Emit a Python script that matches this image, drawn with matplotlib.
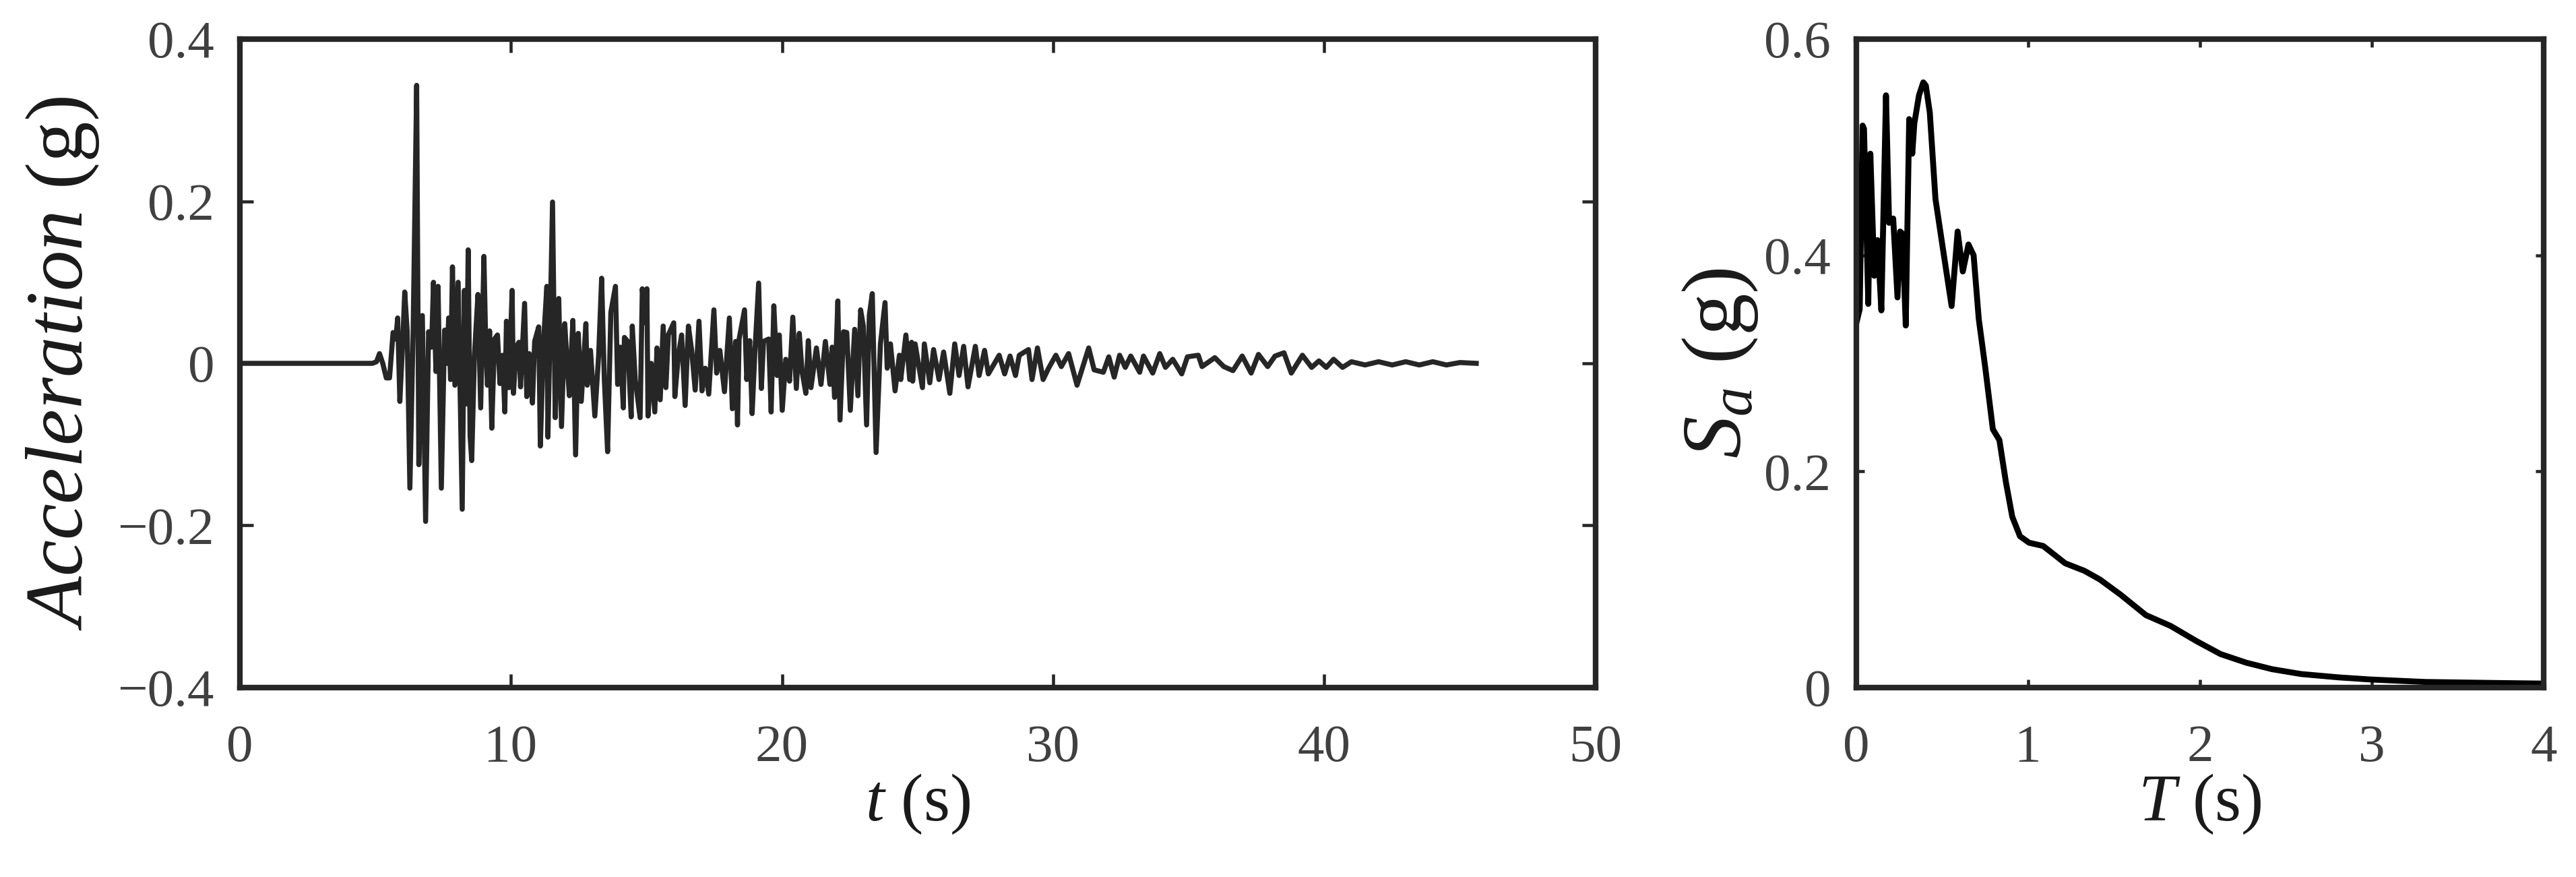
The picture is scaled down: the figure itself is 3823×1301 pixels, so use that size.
import numpy as np
import matplotlib.pyplot as plt

plt.rcParams['font.family'] = 'Liberation Serif'
plt.rcParams['mathtext.fontset'] = 'custom'
plt.rcParams['mathtext.rm'] = 'Liberation Serif'
plt.rcParams['mathtext.it'] = 'Liberation Serif:italic'
plt.rcParams['axes.unicode_minus'] = True

# ground motion record (peaks and troughs)
acc_t = [0.0, 4.9, 5.05, 5.16, 5.28, 5.41, 5.53, 5.66, 5.76, 5.83, 5.91, 6.02, 6.09, 6.18, 6.28,
         6.40, 6.53, 6.61, 6.74, 6.86, 6.97, 7.08, 7.15, 7.24, 7.32, 7.44, 7.56, 7.64, 7.71, 7.78,
         7.85, 7.94, 8.06, 8.21, 8.29, 8.36, 8.43, 8.50, 8.56, 8.66, 8.79, 8.89, 9.01, 9.08, 9.14,
         9.22, 9.30, 9.40, 9.51, 9.60, 9.70, 9.78, 9.84, 9.93, 10.05, 10.10, 10.20, 10.30, 10.36,
         10.51, 10.59, 10.68, 10.80, 10.88, 11.03, 11.09, 11.21, 11.33, 11.37, 11.54, 11.64, 11.77,
         11.87, 11.99, 12.08, 12.16, 12.29, 12.39, 12.49, 12.60, 12.77, 12.82, 12.94, 13.10, 13.24,
         13.35, 13.45, 13.57, 13.69, 13.86, 13.94, 14.04, 14.15, 14.19, 14.31, 14.44, 14.48, 14.59,
         14.77, 14.85, 14.95, 15.02, 15.06, 15.18, 15.31, 15.39, 15.51, 15.62, 15.72, 15.81, 16.01,
         16.05, 16.18, 16.30, 16.43, 16.55, 16.67, 16.80, 16.94, 17.05, 17.17, 17.30, 17.49, 17.59,
         17.71, 17.88, 18.06, 18.17, 18.29, 18.36, 18.42, 18.62, 18.70, 18.81, 18.90, 19.00, 19.14,
         19.24, 19.32, 19.51, 19.60, 19.70, 19.82, 19.90, 20.01, 20.14, 20.28, 20.40, 20.53, 20.64,
         20.74, 20.88, 20.97, 21.07, 21.27, 21.44, 21.60, 21.77, 21.85, 21.94, 22.06, 22.14, 22.27,
         22.39, 22.52, 22.68, 22.80, 22.90, 23.00, 23.12, 23.22, 23.33, 23.47, 23.63, 23.80, 23.88,
         24.00, 24.17, 24.33, 24.38, 24.57, 24.71, 24.78, 24.82, 24.91, 25.18, 25.25, 25.45, 25.59,
         25.79, 25.96, 26.19, 26.37, 26.53, 26.70, 26.86, 27.13, 27.27, 27.47, 27.61, 28.01, 28.21,
         28.41, 28.61, 28.75, 29.09, 29.22, 29.42, 29.63, 29.83, 30.10, 30.30, 30.57, 30.88, 31.31,
         31.51, 31.85, 32.05, 32.25, 32.45, 32.66, 32.86, 33.19, 33.33, 33.67, 33.93, 34.14, 34.41,
         34.74, 34.95, 35.35, 35.49, 35.96, 36.29, 36.63, 36.97, 37.30, 37.57, 37.91, 38.18, 38.51,
         38.78, 39.19, 39.53, 39.80, 40.07, 40.34, 40.67, 41.0, 41.5, 42.0, 42.5, 43.0, 43.5, 44.0,
         44.5, 45.0, 45.6]
acc_g = [0.0, 0.0, 0.002, 0.012, 0.0, -0.018, -0.018, 0.038, 0.03, 0.056, -0.047, 0.03, 0.088, 0.04, -0.154,
         0.04, 0.343, -0.125, 0.059, -0.195, 0.039, 0.02, 0.10, -0.01, 0.095, -0.154, 0.041, 0.0, 0.056, -0.02,
         0.119, -0.027, 0.10, -0.18, 0.09, -0.05, 0.14, -0.09, -0.12, 0.01, 0.085, -0.055, 0.132, 0.02, -0.027,
         0.04, -0.08, 0.03, 0.035, -0.025, 0.01, -0.06, 0.052, -0.03, 0.09, -0.037, 0.02, 0.026, -0.029,
         0.074, -0.041, 0.012, -0.049, 0.027, 0.045, -0.102, 0.028, 0.095, -0.091, 0.199, -0.067, 0.080,
         -0.078, 0.049, 0.0, -0.040, 0.053, -0.113, 0.037, -0.047, 0.049, -0.027, 0.016, -0.065, 0.01,
         0.105, -0.02, -0.109, 0.063, 0.095, -0.026, 0.02, -0.055, 0.032, 0.027, -0.066, 0.046, -0.02,
         -0.067, 0.092, 0.05, 0.092, -0.065, 0.0, -0.060, 0.019, -0.045, 0.046, -0.030, 0.035, 0.050,
         -0.041, 0.01, 0.035, -0.052, 0.046, 0.016, -0.033, 0.052, -0.034, -0.006, -0.038, 0.066, -0.012,
         0.016, -0.035, 0.056, -0.056, 0.027, -0.076, 0.030, 0.066, -0.02, 0.028, -0.062, 0.013, 0.099,
         -0.031, 0.027, 0.030, -0.060, 0.071, -0.015, 0.035, -0.058, 0.005, -0.022, 0.057, -0.031, 0.037,
         -0.01, -0.037, 0.028, -0.03, 0.019, -0.026, 0.027, -0.026, 0.02, -0.042, 0.077, -0.070, 0.039,
         0.038, -0.058, 0.042, -0.040, 0.066, 0.046, -0.076, 0.059, 0.086, -0.110, 0.024, 0.075, -0.006,
         0.024, -0.034, 0.010, -0.02, 0.035, -0.02, 0.026, -0.022, 0.024, -0.030, 0.024, -0.024, 0.017,
         -0.020, 0.014, -0.037, 0.024, -0.015, 0.021, -0.029, 0.021, -0.015, 0.016, -0.013, 0.010, -0.013,
         0.009, -0.015, 0.010, 0.017, -0.020, 0.019, -0.020, -0.006, 0.010, -0.004, 0.012, -0.027, 0.019,
         -0.008, -0.011, 0.008, -0.017, 0.010, -0.005, 0.009, -0.011, 0.009, -0.012, 0.012, -0.005, 0.005,
         -0.013, 0.008, 0.010, -0.004, 0.007, -0.004, -0.009, 0.009, -0.012, 0.011, -0.004, 0.009, 0.013,
         -0.012, 0.010, -0.005, 0.003, -0.005, 0.005, -0.005, 0.002, -0.002, 0.002, -0.002, 0.002, -0.002, 0.002,
         -0.002, 0.001, 0.0]

# response spectrum
period = [0.0, 0.02, 0.037, 0.045, 0.07, 0.082, 0.105, 0.124, 0.146, 0.173, 0.191, 0.215, 0.240,
          0.255, 0.269, 0.288, 0.308, 0.326, 0.338, 0.365, 0.39, 0.405, 0.428, 0.461, 0.51, 0.555,
          0.59, 0.62, 0.653, 0.683, 0.713, 0.75, 0.795, 0.833, 0.871, 0.908, 0.953, 1.006, 1.088,
          1.216, 1.328, 1.418, 1.538, 1.686, 1.83, 1.98, 2.12, 2.27, 2.42, 2.59, 2.81, 2.99, 3.31,
          3.74, 4.0]
sa = [0.337, 0.35, 0.520, 0.517, 0.355, 0.494, 0.381, 0.414, 0.349, 0.548, 0.430, 0.434, 0.361,
      0.422, 0.420, 0.335, 0.526, 0.494, 0.522, 0.548, 0.560, 0.557, 0.532, 0.452, 0.400, 0.353,
      0.422, 0.385, 0.410, 0.400, 0.341, 0.297, 0.239, 0.229, 0.190, 0.158, 0.140, 0.134, 0.131,
      0.115, 0.108, 0.100, 0.086, 0.067, 0.057, 0.043, 0.031, 0.023, 0.017, 0.0125, 0.0094, 0.0075, 0.0052,
      0.0042, 0.0037]

acc_xticks = [0, 10, 20, 30, 40, 50]
acc_yticks = [-0.4, -0.2, 0, 0.2, 0.4]
acc_yticklabels = ['\u22120.4', '\u22120.2', '0', '0.2', '0.4']
sa_xticks = [0, 1, 2, 3, 4]
sa_yticks = [0, 0.2, 0.4, 0.6]
sa_yticklabels = ['0', '0.2', '0.4', '0.6']

axis_col = '#262626'
tick_col = '#404040'

fig = plt.figure(figsize=(3823 / 300, 1301 / 300), dpi=300)
ax1 = fig.add_axes([0.0930, 0.2160, 0.5264, 0.7394])
ax2 = fig.add_axes([0.7206, 0.2160, 0.2668, 0.7394])


def style(ax, ticklen):
    for s in ax.spines.values():
        s.set_linewidth(2.0)
        s.set_color(axis_col)
    ax.tick_params(direction='in', top=True, right=True, length=ticklen, width=1.1,
                   color=axis_col, labelsize=19, labelcolor=tick_col)
    ax.tick_params(axis='y', pad=9)
    ax.tick_params(axis='x', pad=13)


ax1.plot(acc_t, acc_g, color='#262626', lw=1.8, solid_joinstyle='round')
ax1.set_xlim(0, 50)
ax1.set_ylim(-0.4, 0.4)
ax1.set_xticks(acc_xticks)
ax1.set_yticks(acc_yticks)
ax1.set_yticklabels(acc_yticklabels)
style(ax1, 4.8)
ax1.set_xlabel(r'$t$ (s)', fontsize=24, color='#1a1a1a', labelpad=0)
ax1.set_ylabel(r'$Acceleration$ (g)', fontsize=29, color='#1a1a1a')
ax1.yaxis.set_label_coords(-0.102, 0.5)

ax2.plot(period, sa, color='black', lw=2.1, solid_joinstyle='round')
ax2.set_xlim(0, 4)
ax2.set_ylim(0, 0.6)
ax2.set_xticks(sa_xticks)
ax2.set_yticks(sa_yticks)
ax2.set_yticklabels(sa_yticklabels)
style(ax2, 2.9)
ax2.set_xlabel(r'$T$ (s)', fontsize=24, color='#1a1a1a', labelpad=0)
ax2.set_ylabel(r'$S_a$ (g)', fontsize=30, color='#1a1a1a')
ax2.yaxis.set_label_coords(-0.14, 0.5)

fig.savefig('out.png', dpi=300)
